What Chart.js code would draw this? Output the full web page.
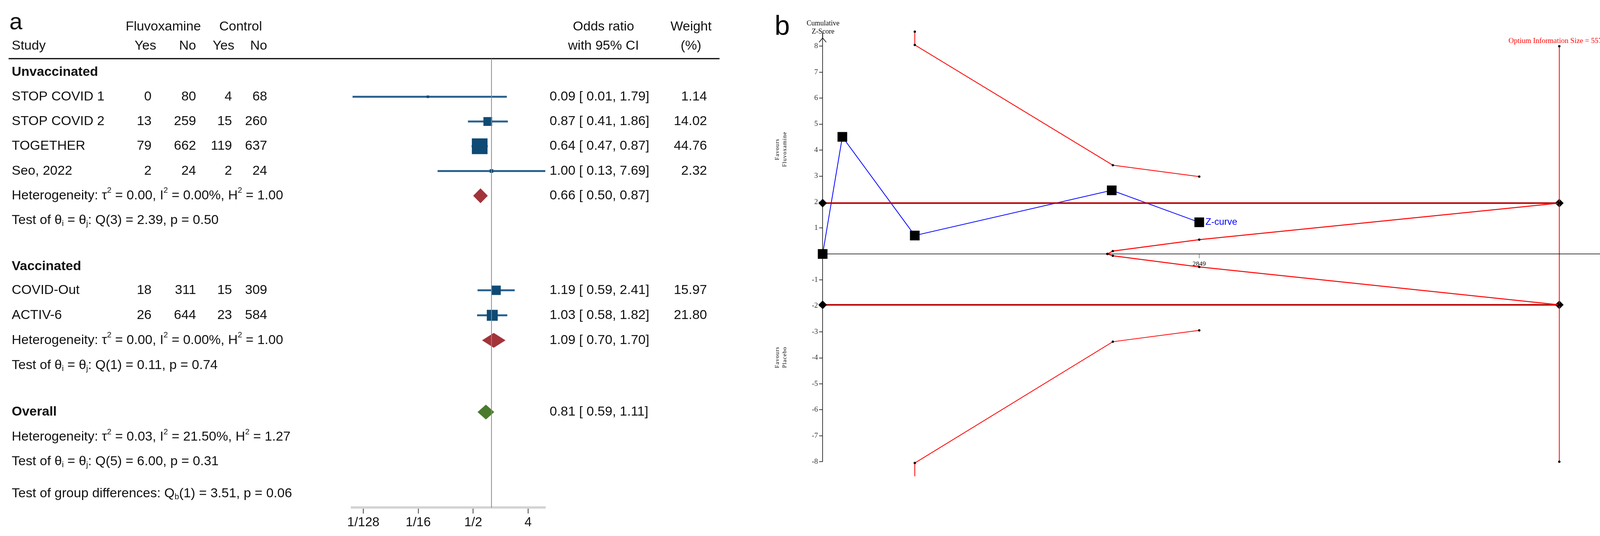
<!DOCTYPE html>
<html><head><meta charset="utf-8">
<script src="https://cdn.jsdelivr.net/npm/chart.js@4/dist/chart.umd.min.js"></script>
<style>body{margin:0;background:#fff;width:4157px;height:1371px;position:relative;overflow:hidden}canvas{position:absolute;top:0}</style>
</head><body>
<canvas id="ca" width="1900" height="1371" style="left:0"></canvas>
<canvas id="cb" width="2257" height="1371" style="left:1900px"></canvas>
<script>
// ---------- Panel a data ----------
const studies = ["STOP COVID 1","STOP COVID 2","TOGETHER","Seo, 2022","COVID-Out","ACTIV-6"];
const fluYes = [0,13,79,2,18,26];
const fluNo = [80,259,662,24,311,644];
const ctlYes = [4,15,119,2,15,23];
const ctlNo = [68,260,637,24,309,584];
const orVal = [0.09,0.87,0.64,1.00,1.19,1.03];
const ciLo = [0.0052,0.41,0.47,0.13,0.59,0.58];
const ciLoText = ["0.01","0.41","0.47","0.13","0.59","0.58"];
const ciHi = [1.79,1.86,0.87,7.69,2.41,1.82];
const weights = [1.14,14.02,44.76,2.32,15.97,21.80];
const studyRow = [1,2,3,4,8.82,9.83];
const poolOr = [0.66,1.09,0.81];
const poolLo = [0.50,0.70,0.59];
const poolHi = [0.87,1.70,1.11];
const poolRow = [5,10.84,13.74];
const poolColor = ["#a3333a","#a3333a","#4a7a2c"];
const forestTicks = [-7,-4,-1,2];
const forestTickLabels = ["1/128","1/16","1/2","4"];

// ---------- Panel b data ----------
const zInfo = [0,149,697,2187,2849];
const zScore = [0,4.51,0.71,2.45,1.22];
const upBndX = [697,697,2195,2849];
const upBndY = [8.56,8.05,3.42,2.98];
const loBndY = [-8.56,-8.05,-3.38,-2.94];
const futX = [2154,2195,2849,5573];
const futUpY = [0,0.11,0.55,1.96];
const futLoY = [0,-0.07,-0.5,-1.96];
const ris = 5573;
const convZ = 1.96;
const zTicks = [-8,-7,-6,-5,-4,-3,-2,-1,0,1,2,3,4,5,6,7,8];

const log2 = v => Math.log2(v);
const F = "'Liberation Sans', Arial, sans-serif";
const S = "'Liberation Serif', 'Times New Roman', serif";

function rich(ctx, segs, x, y, size) {
  let cx = x;
  for (const [t, m] of segs) {
    const s = m === 'n' ? size : size * 0.6;
    ctx.font = s + "px " + F;
    const dy = m === 'sup' ? -size * 0.38 : m === 'sub' ? size * 0.25 : 0;
    ctx.fillText(t, cx, y + dy);
    cx += ctx.measureText(t).width;
  }
}

const tablePlugin = {
  id: 'table',
  afterDraw(chart) {
    const ctx = chart.ctx, ys = chart.scales.y, xs = chart.scales.x, ca = chart.chartArea;
    ctx.save();
    ctx.fillStyle = '#111';
    ctx.textBaseline = 'middle';
    const fs = 34;
    ctx.font = "60px " + F; ctx.textAlign = 'left'; ctx.fillText('a', 24, 58);
    ctx.font = fs + "px " + F;
    ctx.textAlign = 'center';
    ctx.fillText('Fluvoxamine', 418, 69); ctx.fillText('Control', 616, 69);
    ctx.fillText('Odds ratio', 1545, 69); ctx.fillText('with 95% CI', 1545, 118);
    ctx.fillText('Weight', 1769, 69); ctx.fillText('(%)', 1769, 118);
    ctx.textAlign = 'left'; ctx.fillText('Study', 30, 118);
    ctx.textAlign = 'right';
    [['Yes',400],['No',502],['Yes',600],['No',684]].forEach(([t,x]) => ctx.fillText(t, x, 118));
    ctx.strokeStyle = '#000'; ctx.lineWidth = 3;
    ctx.beginPath(); ctx.moveTo(22, 150); ctx.lineTo(1842, 150); ctx.stroke();
    ctx.font = "bold " + fs + "px " + F; ctx.textAlign = 'left';
    ctx.fillText('Unvaccinated', 30, ys.getPixelForValue(0));
    ctx.fillText('Vaccinated', 30, ys.getPixelForValue(7.85));
    ctx.fillText('Overall', 30, ys.getPixelForValue(13.74));
    ctx.font = fs + "px " + F;
    studies.forEach((s, i) => {
      const y = ys.getPixelForValue(studyRow[i]);
      ctx.textAlign = 'left'; ctx.fillText(s, 30, y);
      ctx.textAlign = 'right';
      ctx.fillText(fluYes[i], 388, y); ctx.fillText(fluNo[i], 502, y);
      ctx.fillText(ctlYes[i], 594, y); ctx.fillText(ctlNo[i], 684, y);
      ctx.fillText(weights[i].toFixed(2), 1810, y);
      ctx.textAlign = 'left';
      ctx.fillText(orVal[i].toFixed(2) + ' [ ' + ciLoText[i] + ', ' + ciHi[i].toFixed(2) + ']', 1407, y);
    });
    poolOr.forEach((v, i) => {
      const y = ys.getPixelForValue(poolRow[i]);
      ctx.textAlign = 'left'; ctx.font = fs + "px " + F;
      ctx.fillText(v.toFixed(2) + ' [ ' + poolLo[i].toFixed(2) + ', ' + poolHi[i].toFixed(2) + ']', 1407, y);
      const x0 = xs.getPixelForValue(log2(poolLo[i])), x1 = xs.getPixelForValue(log2(v)), x2 = xs.getPixelForValue(log2(poolHi[i]));
      ctx.fillStyle = poolColor[i];
      ctx.beginPath(); ctx.moveTo(x0, y); ctx.lineTo(x1, y - 19); ctx.lineTo(x2, y); ctx.lineTo(x1, y + 19); ctx.closePath(); ctx.fill();
      ctx.fillStyle = '#111';
    });
    ctx.textAlign = 'left';
    const het = [[5, '0.00', '0.00', '1.00'], [10.84, '0.00', '0.00', '1.00'], [14.75, '0.03', '21.50', '1.27']];
    het.forEach(([r, t, i2, h]) => rich(ctx, [['Heterogeneity: τ','n'],['2','sup'],[' = ' + t + ', I','n'],['2','sup'],[' = ' + i2 + '%, H','n'],['2','sup'],[' = ' + h,'n']], 30, ys.getPixelForValue(r), fs));
    const tests = [[6, '3', '2.39', '0.50'], [11.85, '1', '0.11', '0.74'], [15.74, '5', '6.00', '0.31']];
    tests.forEach(([r, d, q, p]) => rich(ctx, [['Test of θ','n'],['i','sub'],[' = θ','n'],['j','sub'],[': Q(' + d + ') = ' + q + ', p = ' + p,'n']], 30, ys.getPixelForValue(r), fs));
    rich(ctx, [['Test of group differences: Q','n'],['b','sub'],['(1) = 3.51, p = 0.06','n']], 30, ys.getPixelForValue(17.04), fs);
    ctx.strokeStyle = '#8a8a8a'; ctx.lineWidth = 2;
    const nx = xs.getPixelForValue(0);
    ctx.beginPath(); ctx.moveTo(nx, ca.top); ctx.lineTo(nx, ca.bottom); ctx.stroke();
    ctx.restore();
  }
};

const ciSets = studies.map((s, i) => ({
  type: 'line', data: [{x: log2(ciLo[i]), y: studyRow[i]}, {x: log2(ciHi[i]), y: studyRow[i]}],
  borderColor: '#2d6390', borderWidth: 5, pointRadius: 0, order: 2
}));
new Chart(document.getElementById('ca'), {
  type: 'scatter',
  data: { datasets: [...ciSets, {
    data: studies.map((s, i) => ({x: log2(orVal[i]), y: studyRow[i]})),
    pointStyle: 'rect', pointRadius: weights.map(w => 4.24 * Math.sqrt(w)),
    backgroundColor: '#0f4a75', borderWidth: 0, order: 1
  }]},
  options: {
    responsive: false, devicePixelRatio: 1, animation: false,
    layout: { padding: { left: 901, right: 504, top: 150, bottom: 10 } },
    plugins: { legend: { display: false }, tooltip: { enabled: false } },
    scales: {
      x: { type: 'linear', min: -7.62, max: 2.94,
        afterBuildTicks: a => { a.ticks = forestTicks.map(v => ({value: v})); },
        ticks: { callback: (v) => forestTickLabels[forestTicks.indexOf(v)], font: { size: 33, family: F }, color: '#111', padding: 4, maxRotation: 0, autoSkip: false },
        grid: { drawOnChartArea: false, color: '#444', tickLength: 15, lineWidth: 2 },
        border: { color: '#d4d4d4', width: 6 } },
      y: { type: 'linear', min: -0.54, max: 17.6, reverse: true, display: false }
    }
  },
  plugins: [tablePlugin]
});

// ---------- Panel b ----------
const pts = (xs, ys) => xs.map((x, i) => ({x, y: ys[i]}));
const bPlugin = {
  id: 'bt',
  afterDraw(chart) {
    const ctx = chart.ctx, xs = chart.scales.x, ys = chart.scales.y, ca = chart.chartArea;
    ctx.save();
    ctx.fillStyle = '#000';
    ctx.font = "70px " + F; ctx.textBaseline = 'middle'; ctx.textAlign = 'left';
    ctx.fillText('b', 83, 70);
    ctx.font = "18px " + S; ctx.textAlign = 'center';
    ctx.fillText('Cumulative', ca.left + 1, 60); ctx.fillText('Z-Score', ca.left + 1, 81);
    ctx.strokeStyle = '#000'; ctx.lineWidth = 1.5;
    const ay = 97;
    ctx.beginPath(); ctx.moveTo(ca.left, ca.top); ctx.lineTo(ca.left, ay); ctx.stroke();
    ctx.beginPath(); ctx.moveTo(ca.left - 9, ay + 11); ctx.lineTo(ca.left, ay); ctx.lineTo(ca.left + 9, ay + 11); ctx.stroke();
    const lx = xs.getPixelForValue(zInfo[zInfo.length - 1]);
    const y0 = ys.getPixelForValue(0);
    ctx.strokeStyle = '#333'; ctx.lineWidth = 1;
    ctx.beginPath(); ctx.moveTo(lx, y0); ctx.lineTo(lx, y0 + 11); ctx.stroke();
    ctx.font = "17px " + S; ctx.fillText(String(zInfo[zInfo.length - 1]), lx, y0 + 26);
    ctx.fillStyle = '#0000ff'; ctx.font = "24px " + F; ctx.textAlign = 'left';
    ctx.fillText('Z-curve', lx + 16, ys.getPixelForValue(zScore[zScore.length - 1]));
    ctx.fillStyle = '#ff0000'; ctx.font = "19px " + S; ctx.textAlign = 'right';
    ctx.fillText('Optium Information Size = ' + ris, 2211, 105);
    ctx.fillStyle = '#000'; ctx.font = "15px " + S; ctx.textAlign = 'center';
    [[382, 'Favours', 'Fluvoxamine'], [914, 'Favours', 'Placebo']].forEach(([yc, a, b]) => {
      ctx.save(); ctx.translate(90, yc); ctx.rotate(-Math.PI / 2);
      ctx.letterSpacing = '1px';
      ctx.fillText(a, 0, 0); ctx.fillText(b, 0, 19); ctx.restore();
    });
    ctx.restore();
  }
};
const dot = { pointRadius: 3, pointBackgroundColor: '#000', pointBorderWidth: 0 };
new Chart(document.getElementById('cb'), {
  type: 'scatter',
  data: { datasets: [
    { data: [{x: 0, y: 0}, {x: 5940, y: 0}], showLine: true, borderColor: '#000', borderWidth: 1.5, pointRadius: 0 },
    { data: pts(upBndX, upBndY), showLine: true, borderColor: '#ff0000', borderWidth: 2, ...dot },
    { data: pts(upBndX, loBndY), showLine: true, borderColor: '#ff0000', borderWidth: 2, ...dot },
    { data: pts(futX, futUpY), showLine: true, borderColor: '#ff0000', borderWidth: 2.5, ...dot },
    { data: pts(futX, futLoY), showLine: true, borderColor: '#ff0000', borderWidth: 2.5, ...dot },
    { data: [{x: ris, y: 8}, {x: ris, y: -8}], showLine: true, borderColor: '#ff0000', borderWidth: 2, ...dot },
    { data: [{x: 0, y: convZ}, {x: ris, y: convZ}], showLine: true, borderColor: '#b80000', borderWidth: 4, pointStyle: 'rectRot', pointRadius: 11, pointBackgroundColor: '#000', pointBorderWidth: 0 },
    { data: [{x: 0, y: -convZ}, {x: ris, y: -convZ}], showLine: true, borderColor: '#b80000', borderWidth: 4, pointStyle: 'rectRot', pointRadius: 11, pointBackgroundColor: '#000', pointBorderWidth: 0 },
    { data: pts(zInfo, zScore), showLine: true, borderColor: '#0000ff', borderWidth: 2, pointStyle: 'rect', pointRadius: 17.5, pointBackgroundColor: '#000', pointBorderWidth: 0 }
  ]},
  options: {
    responsive: false, devicePixelRatio: 1, animation: false,
    layout: { padding: { left: 148, right: 41, top: 85, bottom: 190 } },
    plugins: { legend: { display: false }, tooltip: { enabled: false } },
    elements: { line: { tension: 0 } },
    clip: false,
    scales: {
      x: { type: 'linear', min: 0, max: 5940, display: false },
      y: { type: 'linear', min: -8, max: 8.5,
        afterBuildTicks: a => { a.ticks = zTicks.map(v => ({value: v})); },
        ticks: { callback: v => v === 0 ? '' : String(v), font: { size: 19, family: S }, color: '#333', padding: 3 },
        grid: { drawOnChartArea: false, color: '#000', tickLength: 9, lineWidth: 1.5 },
        border: { color: '#000', width: 1.5 }, afterFit: s => { s.width = 58; } }
    }
  },
  plugins: [bPlugin]
});
</script>
</body></html>
